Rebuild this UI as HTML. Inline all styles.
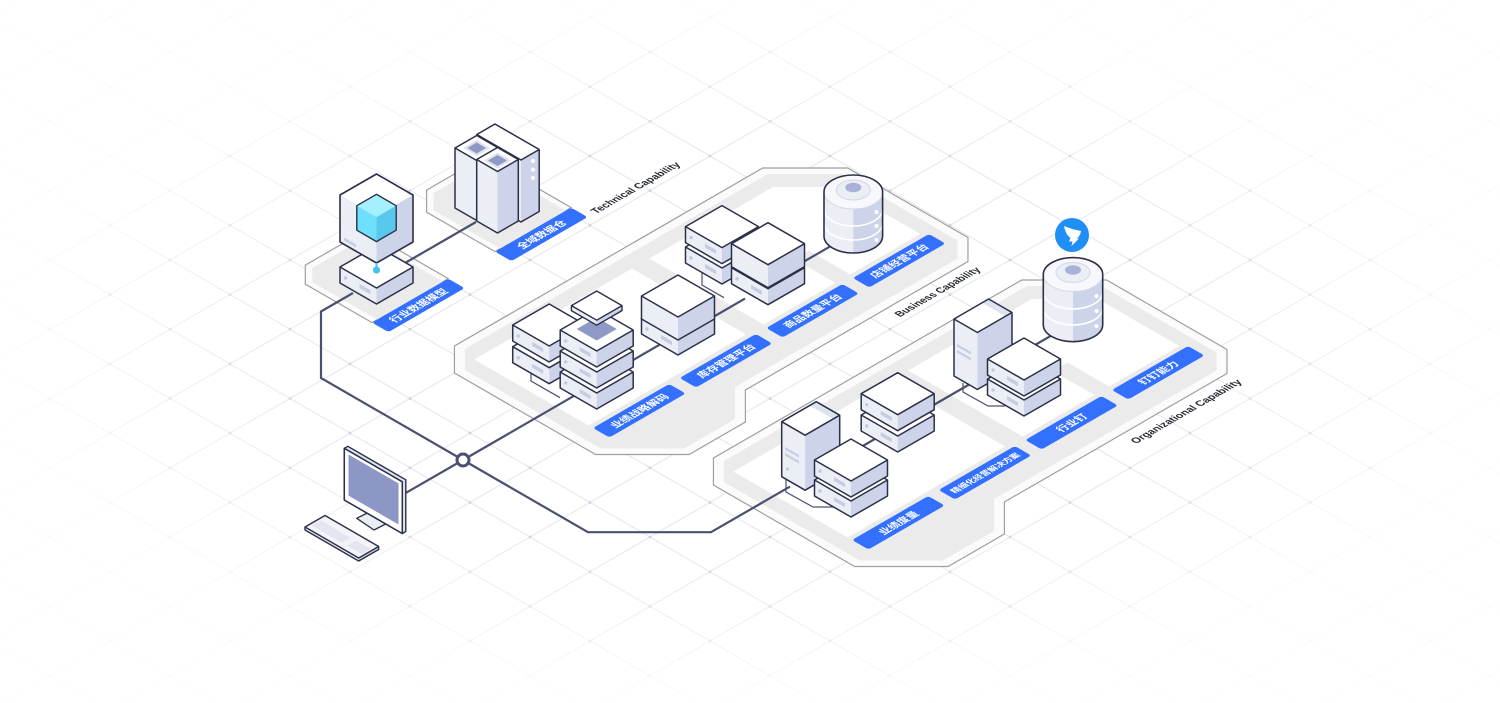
<!DOCTYPE html>
<html><head><meta charset="utf-8">
<style>
html,body{margin:0;padding:0;background:#fff;}
svg{display:block;}
text{font-family:"Liberation Sans","Noto Sans CJK SC",sans-serif;}
</style></head><body>
<svg width="1500" height="703" viewBox="0 0 1500 703" xmlns="http://www.w3.org/2000/svg">
<defs>
<pattern id="grid" patternUnits="userSpaceOnUse" x="110" y="17.44" width="120" height="69.28">
<path d="M-60,-34.64 L180,103.92 M-60,103.92 L180,-34.64" stroke="#e3e5ec" stroke-width="1" fill="none"/>
<circle cx="0" cy="0" r="1.4" fill="#cdd1e3"/><circle cx="120" cy="0" r="1.4" fill="#cdd1e3"/>
<circle cx="0" cy="69.28" r="1.4" fill="#cdd1e3"/><circle cx="120" cy="69.28" r="1.4" fill="#cdd1e3"/>
<circle cx="60" cy="34.64" r="1.4" fill="#cdd1e3"/>
</pattern>
<radialGradient id="fade" cx="0.5" cy="0.5" r="0.5">
<stop offset="0.55" stop-color="#fff" stop-opacity="0"/>
<stop offset="1" stop-color="#fff" stop-opacity="0.9"/>
</radialGradient>
<g id="plat">
<polygon points="2,-162 -25,-135 -25,28 29,82 94,82 126,50 383,50 407,26 407,-113 358,-162" fill="#fbfbfb" stroke="#9f9f9f" stroke-width="1.2" vector-effect="non-scaling-stroke"/>
<polygon points="5,-153 -16,-132 -16,25 32,73 91,73 123,41 380,41 398,23 398,-110 355,-153" fill="#ebebeb"/>
<polygon points="0,-137 182,-137 182,-5 0,-5" fill="#fff"/>
<polygon points="202,-137 345,-137 383,-99 383,-5 302,-5 302,-53 285,-53 285,-5 202,-5" fill="#fff"/>
</g>
<g id="slab">
<path d="M0,0 L36.5,21 L0,42 L-36.5,21Z" fill="#fff"/>
<path d="M-36.5,21 L0,42 L0,58 L-36.5,37Z" fill="#eceef6"/>
<path d="M0,42 L36.5,21 L36.5,37 L0,58Z" fill="#cdd3e8"/>
<circle cx="-31" cy="32" r="1.7" fill="#c3c9de"/>
<path d="M-17,38 L-6,44.3 L-6,48.3 L-17,42Z" fill="#c6cce1"/>
<path d="M0,0 L36.5,21 L36.5,37 L0,58 L-36.5,37 L-36.5,21Z M-36.5,21 L0,42 L36.5,21" fill="none" stroke="#2b3048" stroke-width="1.5" stroke-linejoin="round"/>
</g>
<g id="box">
<path d="M0,0 L36.5,21 L0,42 L-36.5,21Z" fill="#fff"/>
<path d="M-36.5,21 L0,42 L0,65 L-36.5,44Z" fill="#eceef6"/>
<path d="M0,42 L36.5,21 L36.5,44 L0,65Z" fill="#cdd3e8"/>
<path d="M0,0 L36.5,21 L36.5,44 L0,65 L-36.5,44 L-36.5,21Z M-36.5,21 L0,42 L36.5,21" fill="none" stroke="#2b3048" stroke-width="1.5" stroke-linejoin="round"/>
</g>
</defs>

<rect width="1500" height="703" fill="#fff"/>
<rect width="1500" height="703" fill="url(#grid)"/>
<rect width="1500" height="703" fill="url(#fade)"/>

<!-- Technical platform -->
<g transform="matrix(0.866,-0.5,0.866,0.5,372,322.6)">
<polygon points="19,-96 0,-77 0,0 88,0 88,-78 70,-96" fill="#fbfbfb" stroke="#9f9f9f" stroke-width="1.2" vector-effect="non-scaling-stroke"/>
<polygon points="20,-89 6,-75 6,0 82,0 82,-76 68,-89" fill="#ebebeb"/>
<polygon points="164,-101 142,-79 142,0 230,0 230,-83 212,-101" fill="#fbfbfb" stroke="#9f9f9f" stroke-width="1.2" vector-effect="non-scaling-stroke"/>
<polygon points="165,-94 148,-77 148,0 224,0 224,-81 210,-94" fill="#ebebeb"/>
<rect x="0" y="0" width="88" height="19" rx="3" fill="#3370ff"/>
<text x="44" y="13.5" font-size="10.5" font-weight="bold" fill="#fff" text-anchor="middle">行业数据模型</text>
<rect x="142" y="0" width="88" height="19" rx="3" fill="#3370ff"/>
<text x="186" y="13.5" font-size="10.5" font-weight="bold" fill="#fff" text-anchor="middle">全域数据仓</text>
<text x="238" y="21" font-size="11" font-weight="bold" fill="#262a33" textLength="98" lengthAdjust="spacingAndGlyphs">Technical Capability</text>
</g>

<!-- Business platform -->
<g transform="matrix(0.866,-0.5,0.866,0.5,593,428)">
<use href="#plat"/>
<rect x="0" y="0" width="88" height="19" rx="3" fill="#3370ff"/>
<text x="44" y="13.5" font-size="10.5" font-weight="bold" fill="#fff" text-anchor="middle">业绩战略解码</text>
<rect x="100" y="0" width="88" height="19" rx="3" fill="#3370ff"/>
<text x="144" y="13.5" font-size="10.5" font-weight="bold" fill="#fff" text-anchor="middle">库存管理平台</text>
<rect x="200" y="0" width="88" height="19" rx="3" fill="#3370ff"/>
<text x="244" y="13.5" font-size="10.5" font-weight="bold" fill="#fff" text-anchor="middle">商品数量平台</text>
<rect x="300" y="0" width="88" height="19" rx="3" fill="#3370ff"/>
<text x="344" y="13.5" font-size="10.5" font-weight="bold" fill="#fff" text-anchor="middle">店铺经营平台</text>
<text x="288" y="66.5" font-size="11" font-weight="bold" fill="#262a33" textLength="94" lengthAdjust="spacingAndGlyphs">Business Capability</text>
</g>

<!-- Organizational platform -->
<g transform="matrix(0.866,-0.5,0.866,0.5,852,540)">
<use href="#plat"/>
<rect x="0" y="0" width="88" height="19" rx="3" fill="#3370ff"/>
<text x="44" y="13.5" font-size="10.5" font-weight="bold" fill="#fff" text-anchor="middle">业绩度量</text>
<rect x="100" y="0" width="88" height="19" rx="3" fill="#3370ff"/>
<text x="144" y="13" font-size="8.5" font-weight="bold" fill="#fff" text-anchor="middle">精细化经营解决方案</text>
<rect x="200" y="0" width="88" height="19" rx="3" fill="#3370ff"/>
<text x="244" y="13.5" font-size="10.5" font-weight="bold" fill="#fff" text-anchor="middle">行业钉</text>
<rect x="300" y="0" width="88" height="19" rx="3" fill="#3370ff"/>
<text x="344" y="13.5" font-size="10.5" font-weight="bold" fill="#fff" text-anchor="middle">钉钉能力</text>
<text x="260" y="68" font-size="11" font-weight="bold" fill="#262a33" textLength="123" lengthAdjust="spacingAndGlyphs">Organizational Capability</text>
</g>

<!-- connection lines -->
<g fill="none" stroke="#4a5070" stroke-width="2.2" stroke-linejoin="round">
<path d="M353,293 L321,311.5 L321,378 L463,460"/>
<path d="M463,460 L578,393.6"/>
<path d="M463,460 L403,494.6"/>
<path d="M463,460 L588,532.2 L711,532.2 L790,486.6"/>
<path d="M476,222 L405,263"/>
<path d="M628,363 L665,341.6"/>
<path d="M708,320 L745,298.6"/>
<path d="M798,265 L838,241.9"/>
<path d="M842,458 L880,436"/>
<path d="M925,410 L970,384"/>
<path d="M1035,345 L1058,331.7"/>
</g>
<g fill="none" stroke="#4a5070" stroke-width="1.2">
<path d="M531,365 L531,381 L560,397.7"/>
<path d="M702,268 L702,285 L724,297.7"/>
<path d="M786,478 L786,492 L813,507 L836,507"/>
<path d="M963,383 L963,392 L988,406 L1005,406"/>
</g>
<circle cx="463" cy="460" r="6" fill="#fff" stroke="#4a5070" stroke-width="3"/>

<!-- Technical objects -->
<use href="#slab" x="376.5" y="246"/>
<path d="M376.5,174 L413,195 L376.5,216 L340,195Z" fill="#fff"/>
<path d="M340,195 L376.5,216 L376.5,263 L340,242Z" fill="#eceef6"/>
<path d="M376.5,216 L413,195 L413,242 L376.5,263Z" fill="#cdd3e8"/>
<path d="M344,237.5 L356,244.4 L356,247.4 L344,240.5Z" fill="#c6cce1"/>
<path d="M376.5,174 L413,195 L413,242 L376.5,263 L340,242 L340,195Z" fill="none" stroke="#2b3048" stroke-width="1.6" stroke-linejoin="round"/>
<path d="M376.5,194.3 L396.2,205.7 L376.5,217.1 L356.8,205.7Z" fill="#a5f0fe"/>
<path d="M356.8,205.7 L376.5,217.1 L376.5,241.6 L356.8,230.2Z" fill="#6ee0fb"/>
<path d="M376.5,217.1 L396.2,205.7 L396.2,230.2 L376.5,241.6Z" fill="#58c9ec"/>
<path d="M376.5,194.3 L396.2,205.7 L396.2,230.2 L376.5,241.6 L356.8,230.2 L356.8,205.7Z" fill="none" stroke="#2b3048" stroke-width="1.4" stroke-linejoin="round"/>
<line x1="376.5" y1="263" x2="376.5" y2="269" stroke="#45c3ec" stroke-width="2"/>
<circle cx="376.5" cy="270" r="3.6" fill="#45c3ec"/>

<!-- tower group -->
<path d="M495,124 L539.2,149.5 L521,160 L476.8,134.5Z" fill="#fff"/>
<path d="M476.8,134.5 L521,160 L521,222 L476.8,196.5Z" fill="#eceef6"/>
<path d="M521,160 L539.2,149.5 L539.2,211.5 L521,222Z" fill="#cdd3e8"/>
<circle cx="533" cy="161" r="2" fill="#fff"/><circle cx="533" cy="169.5" r="2" fill="#fff"/><circle cx="533" cy="178" r="2" fill="#fff"/>
<path d="M495,124 L539.2,149.5 L539.2,211.5 L521,222 L476.8,196.5 L476.8,134.5Z M476.8,134.5 L521,160 L539.2,149.5" fill="none" stroke="#2b3048" stroke-width="1.5" stroke-linejoin="round"/>
<path d="M476.7,135.5 L498.4,148 L476.7,160.5 L455,148Z" fill="#fff"/>
<path d="M455,148 L476.7,160.5 L476.7,220.5 L455,208Z" fill="#eceef6"/>
<path d="M476.7,160.5 L498.4,148 L498.4,208 L476.7,220.5Z" fill="#cdd3e8"/>
<path d="M476.7,140 L490,148 L476.7,156 L463.4,148Z" fill="#dfe3f0"/>
<path d="M476.7,142.5 L486,148 L476.7,153.5 L467.4,148Z" fill="#8e99c6"/>
<path d="M476.7,135.5 L498.4,148 L498.4,208 L476.7,220.5 L455,208 L455,148Z M455,148 L476.7,160.5 L498.4,148" fill="none" stroke="#2b3048" stroke-width="1.5" stroke-linejoin="round"/>
<path d="M497.5,147.5 L518.3,159.5 L497.5,171.5 L476.7,159.5Z" fill="#fff"/>
<path d="M476.7,159.5 L497.5,171.5 L497.5,233 L476.7,221Z" fill="#eceef6"/>
<path d="M497.5,171.5 L518.3,159.5 L518.3,221 L497.5,233Z" fill="#cdd3e8"/>
<path d="M497.5,152.5 L511,160.5 L497.5,168.5 L484,160.5Z" fill="#dfe3f0"/>
<path d="M497.5,155 L507,160.5 L497.5,166 L488,160.5Z" fill="#8e99c6"/>
<path d="M497.5,147.5 L518.3,159.5 L518.3,221 L497.5,233 L476.7,221 L476.7,159.5Z M476.7,159.5 L497.5,171.5 L518.3,159.5" fill="none" stroke="#2b3048" stroke-width="1.5" stroke-linejoin="round"/>

<!-- Business objects -->
<use href="#slab" x="549.2" y="325.7"/>
<use href="#slab" x="549.2" y="304"/>
<use href="#slab" x="722" y="226"/>
<use href="#slab" x="722" y="205.6"/>
<use href="#slab" x="596.7" y="351"/>
<use href="#slab" x="596.7" y="330"/>
<use href="#slab" x="596.7" y="309"/>
<path d="M596.7,317.5 L616.7,329 L596.7,340.5 L576.7,329Z" fill="#8e99c6"/>
<path d="M596.7,291 L622,305.6 L596.7,320.2 L571.4,305.6Z" fill="#fff"/>
<path d="M571.4,305.6 L596.7,320.2 L596.7,325.2 L571.4,310.6Z" fill="#eceef6"/>
<path d="M596.7,320.2 L622,305.6 L622,310.6 L596.7,325.2Z" fill="#cdd3e8"/>
<path d="M596.7,291 L622,305.6 L622,310.6 L596.7,325.2 L571.4,310.6 L571.4,305.6Z M571.4,305.6 L596.7,320.2 L622,305.6" fill="none" stroke="#2b3048" stroke-width="1.4" stroke-linejoin="round"/>
<use href="#slab" x="678" y="297"/>
<use href="#box" x="678" y="275"/>
<use href="#slab" x="768" y="246.7"/>
<use href="#box" x="768" y="222.7"/>

<!-- business cylinder -->
<path d="M824,192 L824,236 A29.3,17 0 0 0 882.6,236 L882.6,192Z" fill="#eceef6"/>
<path d="M853.3,209 L853.3,253 A29.3,17 0 0 0 882.6,236 L882.6,192 A29.3,17 0 0 1 853.3,209Z" fill="#cdd3e8"/>
<path d="M824,209 A29.3,17 0 0 0 882.6,209 M824,223 A29.3,17 0 0 0 882.6,223" fill="none" stroke="#fff" stroke-width="1.6"/>
<ellipse cx="853.3" cy="192" rx="29.3" ry="17" fill="#f7f8fc" stroke="#d3d7e8" stroke-width="1"/>
<ellipse cx="853.3" cy="190" rx="17" ry="10" fill="#eceef6" stroke="#d3d7e8" stroke-width="1"/>
<ellipse cx="853.3" cy="187.5" rx="8" ry="4.7" fill="#a9b1d6"/>
<circle cx="876.5" cy="212" r="2" fill="#fff"/><circle cx="876.5" cy="226" r="2" fill="#fff"/><circle cx="876.5" cy="240" r="2" fill="#fff"/>
<path d="M824,192 A29.3,17 0 0 1 882.6,192 L882.6,236 A29.3,17 0 0 1 824,236Z" fill="none" stroke="#2b3048" stroke-width="1.6"/>

<!-- Org objects -->
<path d="M816.3,401.7 L839.7,415.2 L805.1,435.2 L781.7,421.7Z" fill="#fff"/>
<path d="M781.7,421.7 L805.1,435.2 L805.1,490.2 L781.7,476.7Z" fill="#eceef6"/>
<path d="M805.1,435.2 L839.7,415.2 L839.7,470.2 L805.1,490.2Z" fill="#cdd3e8"/>
<path d="M816.3,401.7 L839.7,415.2 L833,419 L809.6,405.5Z" fill="#dfe3f0"/>
<path d="M785,447 L799,455 L799,457.5 L785,449.5Z M785,453 L799,461 L799,463.5 L785,455.5Z" fill="#c6cce1"/>
<circle cx="787.5" cy="469" r="1.6" fill="#c3c9de"/>
<path d="M816.3,401.7 L839.7,415.2 L839.7,470.2 L805.1,490.2 L781.7,476.7 L781.7,421.7Z M781.7,421.7 L805.1,435.2 L839.7,415.2" fill="none" stroke="#2b3048" stroke-width="1.5" stroke-linejoin="round"/>
<use href="#slab" x="897.7" y="394"/>
<use href="#slab" x="897.7" y="372.7"/>
<use href="#slab" x="851" y="459"/>
<use href="#slab" x="851" y="439"/>

<path d="M988.6,299 L1012,312.5 L977.4,332.5 L954,319Z" fill="#fff"/>
<path d="M954,319 L977.4,332.5 L977.4,389.5 L954,376Z" fill="#eceef6"/>
<path d="M977.4,332.5 L1012,312.5 L1012,369.5 L977.4,389.5Z" fill="#cdd3e8"/>
<path d="M988.6,299 L1012,312.5 L1005.3,316.3 L981.9,302.8Z" fill="#dfe3f0"/>
<path d="M957,344 L971,352 L971,354.5 L957,346.5Z M957,350 L971,358 L971,360.5 L957,352.5Z" fill="#c6cce1"/>
<path d="M988.6,299 L1012,312.5 L1012,369.5 L977.4,389.5 L954,376 L954,319Z M954,319 L977.4,332.5 L1012,312.5" fill="none" stroke="#2b3048" stroke-width="1.5" stroke-linejoin="round"/>

<!-- org cylinder -->
<path d="M1043.3,274.5 L1043.3,324.7 A29.7,17 0 0 0 1102.7,324.7 L1102.7,274.5Z" fill="#eceef6"/>
<path d="M1073,291.5 L1073,341.7 A29.7,17 0 0 0 1102.7,324.7 L1102.7,274.5 A29.7,17 0 0 1 1073,291.5Z" fill="#cdd3e8"/>
<path d="M1043.3,292 A29.7,17 0 0 0 1102.7,292 M1043.3,308 A29.7,17 0 0 0 1102.7,308" fill="none" stroke="#fff" stroke-width="1.6"/>
<ellipse cx="1073" cy="274.5" rx="29.7" ry="17" fill="#f7f8fc" stroke="#d3d7e8" stroke-width="1"/>
<ellipse cx="1073" cy="272.5" rx="17" ry="10" fill="#eceef6" stroke="#d3d7e8" stroke-width="1"/>
<ellipse cx="1073" cy="270" rx="8" ry="4.7" fill="#a9b1d6"/>
<circle cx="1096.5" cy="296" r="2" fill="#fff"/><circle cx="1096.5" cy="311" r="2" fill="#fff"/><circle cx="1096.5" cy="326" r="2" fill="#fff"/>
<path d="M1043.3,274.5 A29.7,17 0 0 1 1102.7,274.5 L1102.7,324.7 A29.7,17 0 0 1 1043.3,324.7Z" fill="none" stroke="#2b3048" stroke-width="1.6"/>

<use href="#slab" x="1024" y="358"/>
<use href="#slab" x="1024" y="338"/>

<!-- dingtalk icon -->
<circle cx="1072" cy="235" r="17" fill="#1f8ef5"/>
<path d="M1064,226 C1070,228.5 1076,230 1081,231 C1080.5,234.5 1079,237 1076.5,238.5 L1079,238.5 L1071.5,246 L1072.5,241.5 L1069,241.5 L1070.5,238 C1067.5,236 1065,231.5 1064,226Z" fill="#fff"/>

<!-- computer -->
<path d="M356.7,518.3 L368.3,512.5 L386.7,523.5 L374,530Z" fill="#eceef6" stroke="#2b3048" stroke-width="1.3" stroke-linejoin="round"/>
<path d="M347.8,446.3 L405.8,479.8 L405.8,531.5 L402.3,533.5 L344.3,500 L344.3,448.3Z" fill="#dfe3ef" stroke="#2b3048" stroke-width="1.4" stroke-linejoin="round"/>
<path d="M344.3,448.3 L402.3,481.8 L402.3,533.5 L344.3,500Z" fill="#fff" stroke="#2b3048" stroke-width="1.5" stroke-linejoin="round"/>
<path d="M348.5,454.5 L398.5,483.4 L398.5,524.5 L348.5,495.6Z" fill="#8c97c5"/>
<path d="M305,527 L358.7,558 L358.7,561 L305,530Z" fill="#eceef6"/>
<path d="M358.7,558 L378.7,546.5 L378.7,549.5 L358.7,561Z" fill="#cdd3e8"/>
<path d="M305,527 L325,515.5 L378.7,546.5 L358.7,558Z" fill="#f3f4f9"/>
<path d="M312,525.5 L321,520.5 L351,538 L342,543Z" fill="#e3e6f1"/>
<path d="M347,545.5 L356,540.5 L371,549 L362,554Z" fill="#e3e6f1"/>
<path d="M305,527 L325,515.5 L378.7,546.5 L378.7,549.5 L358.7,561 L305,530Z M305,527 L358.7,558 L378.7,546.5" fill="none" stroke="#2b3048" stroke-width="1.4" stroke-linejoin="round"/>
</svg>
</body></html>
